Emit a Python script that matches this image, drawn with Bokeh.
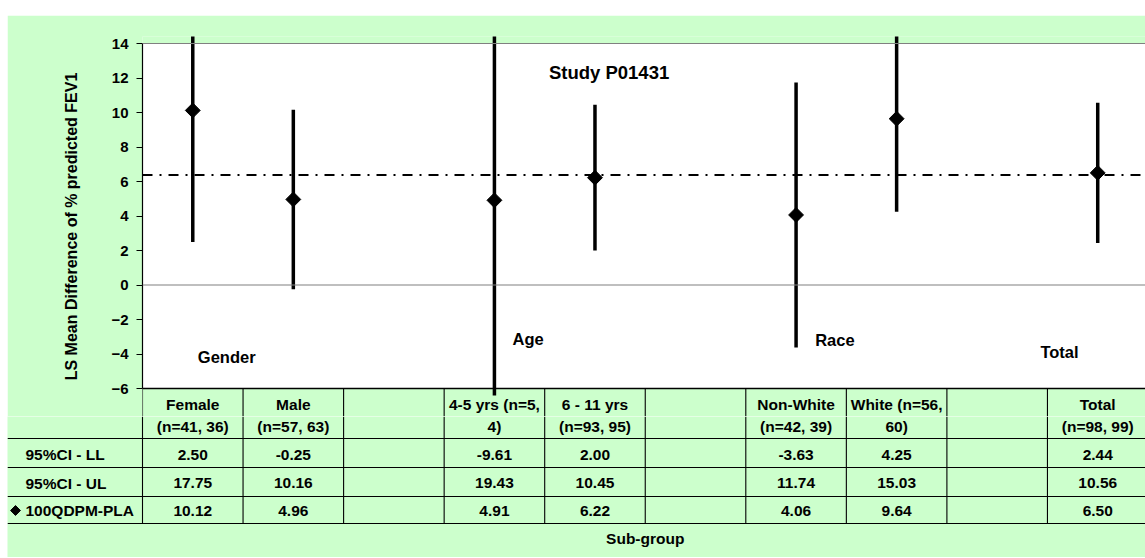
import math

from bokeh.core.properties import value
from bokeh.embed import file_html
from bokeh.layouts import column, row
from bokeh.models import BoxAnnotation, FixedTicker, Range1d, Spacer, Span
from bokeh.plotting import figure
from bokeh.resources import INLINE

# ---- data -------------------------------------------------------------
header_top = ["Female", "Male", "", "4-5 yrs (n=5,", "6 - 11 yrs", "",
              "Non-White", "White (n=56,", "", "Total"]
header_bottom = ["(n=41, 36)", "(n=57, 63)", "", "4)", "(n=93, 95)", "",
                 "(n=42, 39)", "60)", "", "(n=98, 99)"]
ci_low = [2.50, -0.25, None, -9.61, 2.00, None, -3.63, 4.25, None, 2.44]
ci_high = [17.75, 10.16, None, 19.43, 10.45, None, 11.74, 15.03, None, 10.56]
mean_diff = [10.12, 4.96, None, 4.91, 6.22, None, 4.06, 9.64, None, 6.50]
row_labels = ["95%CI - LL", "95%CI - UL", "100QDPM-PLA"]
group_labels = ["Gender", "Age", "Race", "Total"]
reference_level = 6.37
y_ticks = [-6, -4, -2, 0, 2, 4, 6, 8, 10, 12, 14]
y_label = "LS Mean Difference of % predicted FEV1"
x_label = "Sub-group"
study_title = "Study P01431"

# ---- styling / geometry ----------------------------------------------
GREEN = "#CCFFCC"
GRID = "#808080"
FONT = value("Liberation Sans")
COL = 100.55          # pixel width of one category column
PX_UNIT = 17.25       # pixels per y unit
OVER = 7              # whiskers may run a few pixels past the plot area
BELOW = 28            # first header line of the table sits under the plot area
Y_MIN, Y_MAX = -6, 14

FIG_W = 1138
TOP_H = 401
BOT_H = 141
LEFT = 135
TOP_BORDER = 21
FRAME_W = FIG_W - LEFT
X_END = FRAME_W / COL
Y_LOW = Y_MIN - BELOW / PX_UNIT
Y_HIGH = Y_MAX + OVER / PX_UNIT

ncat = len(header_top)
cx = [i + 0.5 for i in range(ncat)]
vx = list(range(ncat + 1))

# ---- plot area (with the first header line of the table) -------------
top = figure(width=FIG_W, height=TOP_H, output_backend="svg", toolbar_location=None,
             x_range=Range1d(0, X_END), y_range=Range1d(Y_LOW, Y_HIGH),
             min_border_left=LEFT, min_border_top=TOP_BORDER, min_border_right=0,
             min_border_bottom=0, x_axis_location=None, frame_align=False,
             background_fill_color=GREEN, border_fill_color=GREEN, outline_line_color=None)
top.xgrid.visible = False
top.ygrid.visible = False

top.add_layout(BoxAnnotation(bottom=Y_MIN, top=Y_MAX, fill_color="white", fill_alpha=1,
                             line_color=None, level="underlay"))
top.add_layout(Span(location=Y_MAX, dimension="width", line_color=GRID, line_width=1.2))
top.add_layout(Span(location=0, dimension="width", line_color=GRID, line_width=1.2))
top.add_layout(Span(location=reference_level, dimension="width", line_color="black",
                    line_width=2, line_dash="10 7 2 7"))

# table frame: top rule and column separators of the header row
top.add_layout(Span(location=Y_MIN, dimension="width", line_color="black", line_width=1.4))
top.segment(x0=vx, y0=[Y_MIN] * len(vx), x1=vx, y1=[Y_LOW] * len(vx),
            line_color="black", line_width=1.1)

xs = [i + 0.5 for i, m in enumerate(mean_diff) if m is not None]
lo = [max(v, Y_MIN - OVER / PX_UNIT) for v in ci_low if v is not None]
hi = [v for v in ci_high if v is not None]
mv = [v for v in mean_diff if v is not None]

top.segment(x0=xs, y0=lo, x1=xs, y1=hi, line_color="black", line_width=3.5)
top.scatter(x=xs, y=mv, marker="square", angle=math.pi / 4, size=10.5,
            fill_color="black", line_color="black")

yax = top.yaxis[0]
yax.ticker = FixedTicker(ticks=y_ticks)
yax.bounds = (Y_MIN, Y_MAX)
yax.axis_line_color = "black"
yax.axis_line_width = 1.2
yax.major_tick_line_color = "black"
yax.major_tick_out = 6
yax.major_tick_in = 0
yax.minor_tick_line_color = None
yax.major_label_standoff = 8
yax.major_label_text_font = "Liberation Sans"
yax.major_label_text_font_style = "bold"
yax.major_label_text_font_size = "15px"
yax.major_label_text_color = "black"
yax.axis_label = y_label
yax.axis_label_text_font = "Liberation Sans"
yax.axis_label_text_font_style = "bold"
yax.axis_label_text_font_size = "16px"
yax.axis_label_text_color = "black"
yax.axis_label_standoff = 28

top.text(x=[4.64], y=[12.3], text=[study_title], text_align="center",
         text_baseline="middle", text_font=FONT, text_font_style="bold",
         text_font_size="18.5px", text_color="black")
top.text(x=[0.55, 3.68, 6.69, 8.93], y=[-4.2, -3.15, -3.19, -3.9], text=group_labels,
         text_align="left", text_baseline="middle", text_font=FONT,
         text_font_style="bold", text_font_size="16.5px", text_color="black")

txt = dict(text_align="center", text_baseline="middle", text_font=FONT,
           text_font_style="bold", text_font_size="15.5px", text_color="black")
top.text(x=cx, y=[Y_MIN - 16 / PX_UNIT] * ncat, text=header_top, **txt)

# ---- rest of the data table (pixel rows, top-down) -------------------
X0 = -LEFT / COL
bot = figure(width=FIG_W, height=BOT_H, output_backend="svg", toolbar_location=None,
             x_range=Range1d(X0, X_END), y_range=Range1d(BOT_H, 0),
             min_border_left=0, min_border_right=0, min_border_top=0, min_border_bottom=0,
             x_axis_location=None, y_axis_location=None, frame_align=False,
             background_fill_color=GREEN, border_fill_color=GREEN, outline_line_color=None)
bot.xgrid.visible = False
bot.ygrid.visible = False

row_edges = [22, 51, 80, 107]
bot.segment(x0=[X0] * len(row_edges), y0=row_edges, x1=[ncat] * len(row_edges),
            y1=row_edges, line_color="black", line_width=1.1)
bot.segment(x0=vx, y0=[0] * len(vx), x1=vx, y1=[row_edges[-1]] * len(vx),
            line_color="black", line_width=1.1)

bot.text(x=cx, y=[9.5] * ncat, text=header_bottom, **txt)


def fmt(v):
    return "" if v is None else f"{v:.2f}"


row_y = [38, 66.5, 94]
bot.text(x=cx, y=[row_y[0]] * ncat, text=[fmt(v) for v in ci_low], **txt)
bot.text(x=cx, y=[row_y[1]] * ncat, text=[fmt(v) for v in ci_high], **txt)
bot.text(x=cx, y=[row_y[2]] * ncat, text=[fmt(v) for v in mean_diff], **txt)

lab_x = X0 + 18 / COL
bot.text(x=[lab_x] * 3, y=row_y, text=row_labels, text_align="left",
         text_baseline="middle", text_font=FONT, text_font_style="bold",
         text_font_size="15.5px", text_color="black")
bot.scatter(x=[X0 + 8 / COL], y=[row_y[2]], marker="square", angle=math.pi / 4, size=7,
            fill_color="black", line_color="black")
bot.text(x=[ncat / 2], y=[122], text=[x_label], **txt)

page = column(Spacer(width=1145, height=15),
              row(Spacer(width=7, height=TOP_H + BOT_H), column(top, bot)))

open("out.html", "w").write(file_html(page, INLINE))
